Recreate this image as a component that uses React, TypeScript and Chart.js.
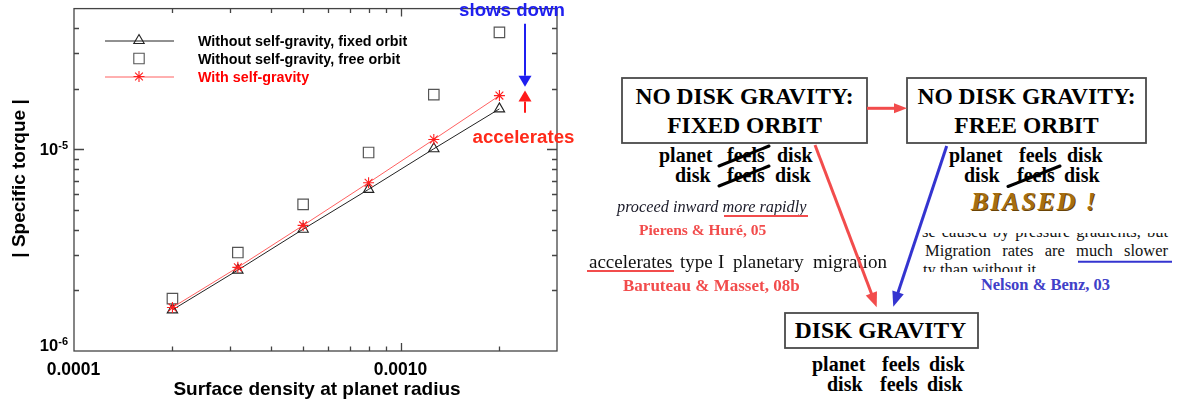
import React, { useEffect, useRef } from 'react';
import { Chart, registerables } from 'chart.js';

Chart.register(...registerables);

// ---------- chart data ----------
const surfaceDensity = [0.0002, 0.000317, 0.000502, 0.000796, 0.00126, 0.002];
const torqueFixedOrbit = [1.6e-6, 2.52e-6, 4.02e-6, 6.34e-6, 1.008e-5, 1.59e-5];
const torqueFreeOrbit = [1.82e-6, 3.08e-6, 5.34e-6, 9.66e-6, 1.87e-5, 3.81e-5];
const torqueSelfGravity = [1.645e-6, 2.6e-6, 4.2e-6, 6.84e-6, 1.121e-5, 1.85e-5];
const seriesLabels = [
  'Without self-gravity, fixed orbit',
  'Without self-gravity, free orbit',
  'With self-gravity',
];
const xRange = [0.0001, 0.003];
const yRange = [1e-6, 5e-5];
const xTickValues = [0.0001, 0.001];
const xTickLabels = ['0.0001', '0.0010'];
const yTickValues = [1e-6, 1e-5];
const yTickExponents = ['-6', '-5'];
const xTitle = 'Surface density at planet radius';
const yTitle = '| Specific torque |';
// annotation arrows (data coordinates)
const arrowX = 0.0024;
const slowsDownFromTo = [4.2e-5, 2.05e-5];
const acceleratesFromTo = [1.52e-5, 1.96e-5];

const SANS = "'Liberation Sans', Arial, Helvetica, sans-serif";
const SERIF = "'Liberation Serif', 'Times New Roman', serif";

function minorTicks(lo: number, hi: number): number[] {
  const out: number[] = [];
  let dec = Math.pow(10, Math.floor(Math.log10(lo)));
  while (dec <= hi) {
    for (let m = 1; m < 10; m++) {
      const v = m * dec;
      if (v >= lo * 0.999 && v <= hi * 1.001) out.push(v);
    }
    dec *= 10;
  }
  return out;
}

function drawMarker(ctx: CanvasRenderingContext2D, kind: string, x: number, y: number) {
  ctx.beginPath();
  if (kind === 'triangle') {
    const r = 6;
    ctx.moveTo(x, y - r);
    ctx.lineTo(x + r * Math.sin((2 * Math.PI) / 3), y - r * Math.cos((2 * Math.PI) / 3));
    ctx.lineTo(x + r * Math.sin((4 * Math.PI) / 3), y - r * Math.cos((4 * Math.PI) / 3));
    ctx.closePath();
  } else if (kind === 'rect') {
    const s = 5.2;
    ctx.rect(x - s, y - s, 2 * s, 2 * s);
  } else {
    const r = 5.5;
    const d = r * Math.SQRT1_2;
    ctx.moveTo(x - r, y); ctx.lineTo(x + r, y);
    ctx.moveTo(x, y - r); ctx.lineTo(x, y + r);
    ctx.moveTo(x - d, y - d); ctx.lineTo(x + d, y + d);
    ctx.moveTo(x - d, y + d); ctx.lineTo(x + d, y - d);
  }
  ctx.stroke();
}

const framePlugin = {
  id: 'idlFrame',
  afterDraw(chart: any) {
    const { ctx, chartArea: a, scales } = chart;
    const xs = scales.x;
    const ys = scales.y;
    ctx.save();
    // frame
    ctx.strokeStyle = '#444';
    ctx.lineWidth = 1.3;
    ctx.strokeRect(a.left, a.top, a.right - a.left, a.bottom - a.top);
    // x ticks (bottom and top, inward)
    for (const v of minorTicks(xRange[0], xRange[1])) {
      const px = Math.round(xs.getPixelForValue(v)) + 0.5;
      if (px <= a.left + 1 || px >= a.right - 1) continue;
      const major = xTickValues.some((t) => Math.abs(t - v) / t < 1e-6);
      const len = major ? 8 : 4.5;
      ctx.beginPath();
      ctx.moveTo(px, a.bottom); ctx.lineTo(px, a.bottom - len);
      ctx.moveTo(px, a.top); ctx.lineTo(px, a.top + len);
      ctx.stroke();
    }
    // y ticks (left and right, inward)
    for (const v of minorTicks(yRange[0], yRange[1])) {
      const py = Math.round(ys.getPixelForValue(v)) + 0.5;
      if (py <= a.top + 1 || py >= a.bottom - 1) continue;
      const major = yTickValues.some((t) => Math.abs(t - v) / t < 1e-6);
      const len = major ? 10 : 5;
      ctx.beginPath();
      ctx.moveTo(a.left, py); ctx.lineTo(a.left + len, py);
      ctx.moveTo(a.right, py); ctx.lineTo(a.right - len, py);
      ctx.stroke();
    }
    // x tick labels
    ctx.fillStyle = '#000';
    ctx.font = `bold 17.5px ${SANS}`;
    ctx.textAlign = 'center';
    ctx.textBaseline = 'alphabetic';
    xTickValues.forEach((v, i) => {
      ctx.fillText(xTickLabels[i], xs.getPixelForValue(v) - 0.5, a.bottom + 24);
    });
    // y tick labels 10^n
    yTickValues.forEach((v, i) => {
      const py = ys.getPixelForValue(v);
      const base = Math.min(py + 5.5, a.bottom);
      ctx.textAlign = 'right';
      ctx.font = `bold 11px ${SANS}`;
      const expW = ctx.measureText(yTickExponents[i]).width;
      ctx.fillText(yTickExponents[i], a.left - 6, base - 6);
      ctx.font = `bold 16.5px ${SANS}`;
      ctx.fillText('10', a.left - 6 - expW, base);
    });
    // axis titles
    ctx.font = `bold 19px ${SANS}`;
    ctx.textAlign = 'center';
    ctx.fillText(xTitle, 317, a.bottom + 44);
    ctx.save();
    ctx.translate(25, 178.5);
    ctx.rotate(-Math.PI / 2);
    ctx.fillText(yTitle, 0, 0);
    ctx.restore();
    // legend
    const rows = [40.5, 58.5, 76.5];
    const kinds = ['triangle', 'rect', 'star'];
    const lineCols = ['#222', null, '#ff6060'];
    const markCols = ['#222', '#555', '#ff2020'];
    const textCols = ['#000', '#000', '#ff0000'];
    ctx.font = `bold 14.3px ${SANS}`;
    ctx.textAlign = 'left';
    rows.forEach((ry, i) => {
      if (lineCols[i]) {
        ctx.strokeStyle = lineCols[i] as string;
        ctx.lineWidth = 1;
        ctx.beginPath();
        ctx.moveTo(105, ry + 0.5); ctx.lineTo(174, ry + 0.5);
        ctx.stroke();
      }
      ctx.strokeStyle = markCols[i];
      ctx.lineWidth = 1.1;
      drawMarker(ctx, kinds[i], 139, ry);
      ctx.fillStyle = textCols[i];
      ctx.fillText(seriesLabels[i], 198, ry + 5);
    });
    // annotations
    const ax = Math.round(xs.getPixelForValue(arrowX));
    const drawArrow = (y1: number, y2: number, col: string) => {
      const dir = y2 > y1 ? 1 : -1;
      const hb = y2 - dir * 11;
      ctx.strokeStyle = col;
      ctx.fillStyle = col;
      ctx.lineWidth = 2;
      ctx.beginPath();
      ctx.moveTo(ax, y1); ctx.lineTo(ax, hb);
      ctx.stroke();
      ctx.beginPath();
      ctx.moveTo(ax - 6.5, hb); ctx.lineTo(ax + 6.5, hb); ctx.lineTo(ax, y2);
      ctx.closePath();
      ctx.fill();
    };
    drawArrow(ys.getPixelForValue(slowsDownFromTo[0]), ys.getPixelForValue(slowsDownFromTo[1]), '#1f1ff0');
    drawArrow(ys.getPixelForValue(acceleratesFromTo[0]), ys.getPixelForValue(acceleratesFromTo[1]), '#ff1a1a');
    ctx.font = `bold 18.7px ${SANS}`;
    ctx.textAlign = 'center';
    ctx.fillStyle = '#1f1ff0';
    ctx.fillText('slows down', ax - 13, 16);
    ctx.fillStyle = '#ff2a1a';
    ctx.fillText('accelerates', ax - 1.5, 142.7);
    ctx.restore();
  },
};

function TorqueChart() {
  const ref = useRef<HTMLCanvasElement | null>(null);
  useEffect(() => {
    if (!ref.current) return;
    const pts = (ys: number[]) => surfaceDensity.map((x, i) => ({ x, y: ys[i] }));
    const chart = new Chart(ref.current, {
      type: 'scatter',
      data: {
        datasets: [
          {
            label: seriesLabels[2],
            data: pts(torqueSelfGravity),
            showLine: true,
            borderColor: '#ff6060',
            borderWidth: 1,
            pointStyle: 'star',
            pointRadius: 5.5,
            pointBorderColor: '#ff2020',
            pointBorderWidth: 1.1,
            pointBackgroundColor: 'rgba(0,0,0,0)',
          },
          {
            label: seriesLabels[0],
            data: pts(torqueFixedOrbit),
            showLine: true,
            borderColor: '#222',
            borderWidth: 1,
            pointStyle: 'triangle',
            pointRadius: 6,
            pointBorderColor: '#222',
            pointBorderWidth: 1.1,
            pointBackgroundColor: 'rgba(0,0,0,0)',
          },
          {
            label: seriesLabels[1],
            data: pts(torqueFreeOrbit),
            showLine: false,
            pointStyle: 'rect',
            pointRadius: 7.4,
            pointBorderColor: '#555',
            pointBorderWidth: 1.2,
            pointBackgroundColor: 'rgba(0,0,0,0)',
          },
        ],
      },
      options: {
        responsive: false,
        animation: false,
        devicePixelRatio: 1,
        events: [],
        layout: { padding: { left: 74, top: 7, right: 33, bottom: 52 } },
        plugins: { legend: { display: false }, tooltip: { enabled: false } },
        scales: {
          x: { type: 'logarithmic', min: xRange[0], max: xRange[1], display: false },
          y: { type: 'logarithmic', min: yRange[0], max: yRange[1], display: false },
        },
      },
      plugins: [framePlugin],
    } as any);
    return () => chart.destroy();
  }, []);
  return (
    <canvas ref={ref} width={590} height={403} style={{ position: 'absolute', left: 0, top: 0 }} />
  );
}

// ---------- diagram ----------
type TxtProps = {
  x: number; y: number; size: number; children: React.ReactNode;
  bold?: boolean; italic?: boolean; color?: string; middle?: boolean; ls?: number; shadow?: string;
};
function Txt({ x, y, size, children, bold, italic, color = '#000', middle, ls, shadow }: TxtProps) {
  const style: React.CSSProperties = {
    position: 'absolute',
    left: x,
    top: y - 0.8375 * size,
    fontFamily: SERIF,
    fontSize: size,
    lineHeight: `${size}px`,
    fontWeight: bold ? 'bold' : 'normal',
    fontStyle: italic ? 'italic' : 'normal',
    color,
    whiteSpace: 'nowrap',
    letterSpacing: ls,
    textShadow: shadow,
    transform: middle ? 'translateX(-50%)' : undefined,
  };
  return <div style={style}>{children}</div>;
}

function Arrow({ x1, y1, x2, y2, color, w = 3, head = 14, hw = 6 }: any) {
  const dx = x2 - x1, dy = y2 - y1;
  const L = Math.hypot(dx, dy);
  const ux = dx / L, uy = dy / L;
  const bx = x2 - ux * head, by = y2 - uy * head;
  const px = -uy, py = ux;
  return (
    <g>
      <line x1={x1} y1={y1} x2={bx + ux} y2={by + uy} stroke={color} strokeWidth={w} />
      <polygon points={`${x2},${y2} ${bx + px * hw},${by + py * hw} ${bx - px * hw},${by - py * hw}`} fill={color} />
    </g>
  );
}

function Words({ words, y, size, bold = true, color = '#000' }: { words: [string, number][]; y: number; size: number; bold?: boolean; color?: string }) {
  return <>{words.map(([w, x], i) => <Txt key={i} x={x} y={y} size={size} bold={bold} color={color}>{w}</Txt>)}</>;
}

function JustLine({ words, left, width, y, size }: { words: string[]; left: number; width: number; y: number; size: number }) {
  return (
    <div style={{
      position: 'absolute', left, width, top: y - 0.8375 * size, display: 'flex', justifyContent: 'space-between',
      fontFamily: SERIF, fontSize: size, lineHeight: `${size}px`, color: '#111', whiteSpace: 'nowrap',
    }}>
      {words.map((w, i) => <span key={i}>{w}</span>)}
    </div>
  );
}

function Diagram() {
  const red = '#f24c4c';
  const blue = '#3434d0';
  const clipTop = 233;
  return (
    <>
      {/* box titles */}
      <Txt x={744.5} y={105} size={23.5} bold middle>NO DISK GRAVITY:</Txt>
      <Txt x={744.5} y={134} size={23.5} bold middle>FIXED ORBIT</Txt>
      <Txt x={1026.5} y={105} size={23.5} bold middle>NO DISK GRAVITY:</Txt>
      <Txt x={1026.5} y={134} size={23.5} bold middle>FREE ORBIT</Txt>
      <Txt x={880.5} y={339} size={23.5} bold middle>DISK GRAVITY</Txt>

      {/* feels lines */}
      <Words words={[['planet', 659], ['feels', 727], ['disk', 777]]} y={162} size={20} />
      <Words words={[['disk', 675], ['feels', 727], ['disk', 775]]} y={182} size={20} />
      <Words words={[['planet', 949], ['feels', 1019], ['disk', 1067]]} y={162} size={20} />
      <Words words={[['disk', 964], ['feels', 1017], ['disk', 1064]]} y={182} size={20} />
      <Words words={[['planet', 812], ['feels', 882], ['disk', 929]]} y={371} size={20} />
      <Words words={[['disk', 827], ['feels', 880], ['disk', 927]]} y={391} size={20} />

      <Txt x={971} y={211} size={26} bold italic color="#a66e10" ls={1.8} shadow="1px 1px 0 #6a4406">BIASED !</Txt>

      <Txt x={617} y={212.7} size={16.3} italic color="#1a1a28">proceed inward more rapidly</Txt>
      <Txt x={639} y={235} size={15.5} bold color={red}>Pierens &amp; Huré, 05</Txt>
      <Words words={[['accelerates', 589], ['type', 680], ['I', 718], ['planetary', 733], ['migration', 813]]} y={268.3} size={19} bold={false} color="#111" />
      <Txt x={623} y={291.7} size={17} bold color={red}>Baruteau &amp; Masset, 08b</Txt>

      <div style={{ position: 'absolute', left: 915, top: clipTop, width: 265, height: 272 - clipTop, overflow: 'hidden' }}>
        <JustLine words={['se', 'caused', 'by', 'pressure', 'gradients,', 'but']} left={7} width={246} y={238.3 - clipTop} size={16.5} />
        <JustLine words={['Migration', 'rates', 'are', 'much', 'slower']} left={10} width={243} y={257.3 - clipTop} size={16.5} />
        <Txt x={8} y={276.3 - clipTop} size={16.5} color="#111">ty than without it.</Txt>
      </div>
      <Txt x={1045.5} y={290.7} size={16.5} bold middle color="#4040c8">Nelson &amp; Benz, 03</Txt>

      <svg width={1182} height={403} style={{ position: 'absolute', left: 0, top: 0, pointerEvents: 'none' }}>
        <rect x={622} y={78} width={245} height={65} fill="none" stroke="#4a4a4a" strokeWidth={1.8} />
        <rect x={907} y={78} width={239} height={65} fill="none" stroke="#4a4a4a" strokeWidth={1.8} />
        <rect x={785} y={313} width={193} height={35} fill="none" stroke="#4a4a4a" strokeWidth={1.8} />
        {/* strike-throughs */}
        <line x1={719} y1={166} x2={769} y2={146} stroke="#000" strokeWidth={3} strokeLinecap="round" />
        <line x1={719} y1={186} x2={769} y2={166} stroke="#000" strokeWidth={3} strokeLinecap="round" />
        <line x1={1008} y1={186.5} x2={1060} y2={166} stroke="#000" strokeWidth={3} strokeLinecap="round" />
        {/* underlines */}
        <line x1={724} y1={216} x2={808} y2={216} stroke={red} strokeWidth={2} />
        <line x1={587} y1={271} x2={674} y2={271} stroke={red} strokeWidth={2} />
        <line x1={1078} y1={261.7} x2={1172} y2={261.7} stroke={blue} strokeWidth={2} />
        {/* arrows */}
        <Arrow x1={867} y1={108.3} x2={907} y2={108.3} color={red} w={3} head={13} hw={5} />
        <Arrow x1={815} y1={145} x2={876.7} y2={307.3} color={red} w={3} head={15} hw={6} />
        <Arrow x1={946.7} y1={146} x2={893.3} y2={306.7} color={blue} w={3} head={15} hw={6} />
      </svg>
    </>
  );
}

export default function App() {
  return (
    <div style={{ position: 'absolute', left: 0, top: 0, width: 1182, height: 403, background: '#fff', overflow: 'hidden' }}>
      <TorqueChart />
      <Diagram />
    </div>
  );
}
